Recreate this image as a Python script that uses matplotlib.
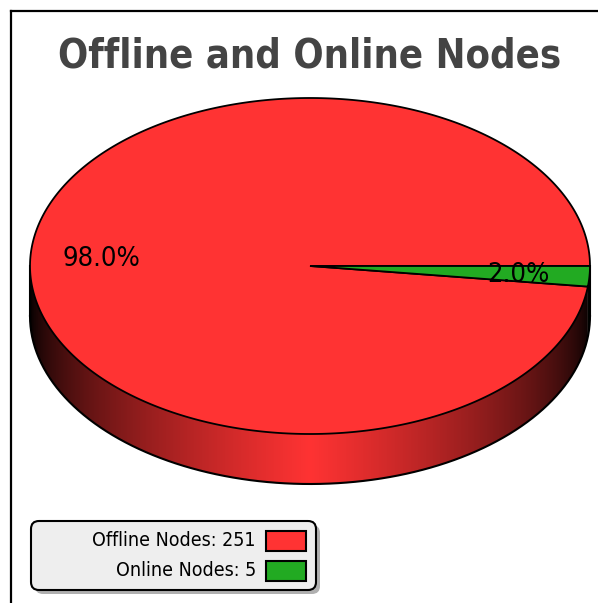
import numpy as np
import matplotlib
matplotlib.use("Agg")
import matplotlib.pyplot as plt
from matplotlib.patches import Polygon, FancyBboxPatch, Rectangle
from matplotlib.path import Path
from matplotlib.patches import PathPatch
from matplotlib.colors import to_rgb
from matplotlib.lines import Line2D

# Data
categories = ["Offline Nodes", "Online Nodes"]
counts = [251, 5]
colors = ["#ff3333", "#22aa22"]
title = "Offline and Online Nodes"

W, H = 598, 603
fig = plt.figure(figsize=(W / 100, H / 100), dpi=100)
ax = fig.add_axes([0, 0, 1, 1])

# Outer frame (left and top edges)
fig.add_artist(Line2D([10.5 / W, 10.5 / W], [0, 1 - 10.5 / H], color="black", lw=1.6,
                      transform=fig.transFigure))
fig.add_artist(Line2D([10.5 / W, 1], [1 - 10.5 / H, 1 - 10.5 / H], color="black", lw=1.6,
                      transform=fig.transFigure))

# Pie geometry (pixel space)
cx, cy = 310.0, 266.0
rx, ry = 280.0, 168.0
depth = 50.0


def ell(theta_deg, dy=0.0):
    t = np.radians(theta_deg)
    return cx + rx * np.cos(t), cy - ry * np.sin(t) + dy


total = float(sum(counts))
fracs = [c / total for c in counts]
starts = np.concatenate([[0.0], np.cumsum(fracs)[:-1]]) * 360.0
ends = np.cumsum(fracs) * 360.0


def side_path(a0, a1):
    th = np.linspace(a0, a1, 200)
    xt, yt = ell(th)
    xb, yb = ell(th[::-1], depth)
    verts = np.column_stack([np.concatenate([xt, xb]), np.concatenate([yt, yb])])
    verts = np.vstack([verts, verts[:1]])
    codes = [Path.MOVETO] + [Path.LINETO] * (len(verts) - 2) + [Path.CLOSEPOLY]
    return Path(verts, codes)


# Side walls with horizontal shading
xs = np.linspace(cx - rx, cx + rx, 600)
u = np.clip(np.abs(xs - cx) / rx, 0, 1)
shade = (1 - u) ** 0.6
for s, e, col in zip(starts, ends, colors):
    # visible front range is 180..360 degrees
    lo, hi = max(s, 180.0), min(e, 360.0)
    if hi <= lo:
        continue
    base = np.array(to_rgb(col))
    grad = (shade[:, None] * base[None, :])[None, :, :]
    p = side_path(lo, hi)
    im = ax.imshow(grad, extent=(cx - rx, cx + rx, cy + ry + depth + 5, cy - 5),
                   aspect="auto", interpolation="bilinear", zorder=1)
    patch = PathPatch(p, facecolor="none", edgecolor="none", transform=ax.transData)
    ax.add_patch(patch)
    im.set_clip_path(patch)

ax.set_xlim(0, W)
ax.set_ylim(H, 0)
ax.axis("off")

# Front outline of the side wall
th = np.linspace(180, 360, 300)
xb, yb = ell(th, depth)
ax.plot(xb, yb, color="black", lw=1.5, zorder=2)
for a in (180, 360):
    x0, y0 = ell(a)
    ax.plot([x0, x0], [y0, y0 + depth], color="black", lw=1.5, zorder=2)

# Top faces
for s, e, col in zip(starts, ends, colors):
    th = np.linspace(s, e, 400)
    x, y = ell(th)
    verts = np.vstack([[cx, cy], np.column_stack([x, y])])
    ax.add_patch(Polygon(verts, closed=True, facecolor=col, edgecolor="black",
                         lw=1.3, joinstyle="miter", zorder=3))

# Percentage labels
for s, e, f in zip(starts, ends, fracs):
    mid = (s + e) / 2.0
    t = np.radians(mid)
    lx = cx + 0.745 * rx * np.cos(t)
    ly = cy - 0.745 * ry * np.sin(t)
    ax.text(lx, ly + 1, f"{f * 100:.1f}%", ha="center", va="center", fontsize=19.6,
            fontstretch="condensed", color="black", zorder=5)

# Title
ax.text(310, 56, title, ha="center", va="center", fontsize=28.6, fontweight="bold",
        fontstretch="condensed", color="#444444", zorder=5)

# Legend box
lx0, ly0, lw_, lh_ = 31, 521, 285, 69
ax.add_patch(FancyBboxPatch((lx0 + 4, ly0 + 4), lw_, lh_,
                            boxstyle="round,pad=0,rounding_size=8",
                            facecolor="#b0b0b0", edgecolor="none", zorder=6))
ax.add_patch(FancyBboxPatch((lx0, ly0), lw_, lh_,
                            boxstyle="round,pad=0,rounding_size=8",
                            facecolor="#eeeeee", edgecolor="black", lw=1.5, zorder=7))
row_y = [541, 571]
for name, c, col, yy in zip(categories, counts, colors, row_y):
    ax.text(256, yy, f"{name}: {c}", ha="right", va="center", fontsize=14.0,
            fontstretch="condensed", color="black", zorder=8)
    ax.add_patch(Rectangle((266, yy - 10), 40, 20, facecolor=col, edgecolor="black",
                           lw=1.5, zorder=8))

fig.savefig("out.png", dpi=100)
